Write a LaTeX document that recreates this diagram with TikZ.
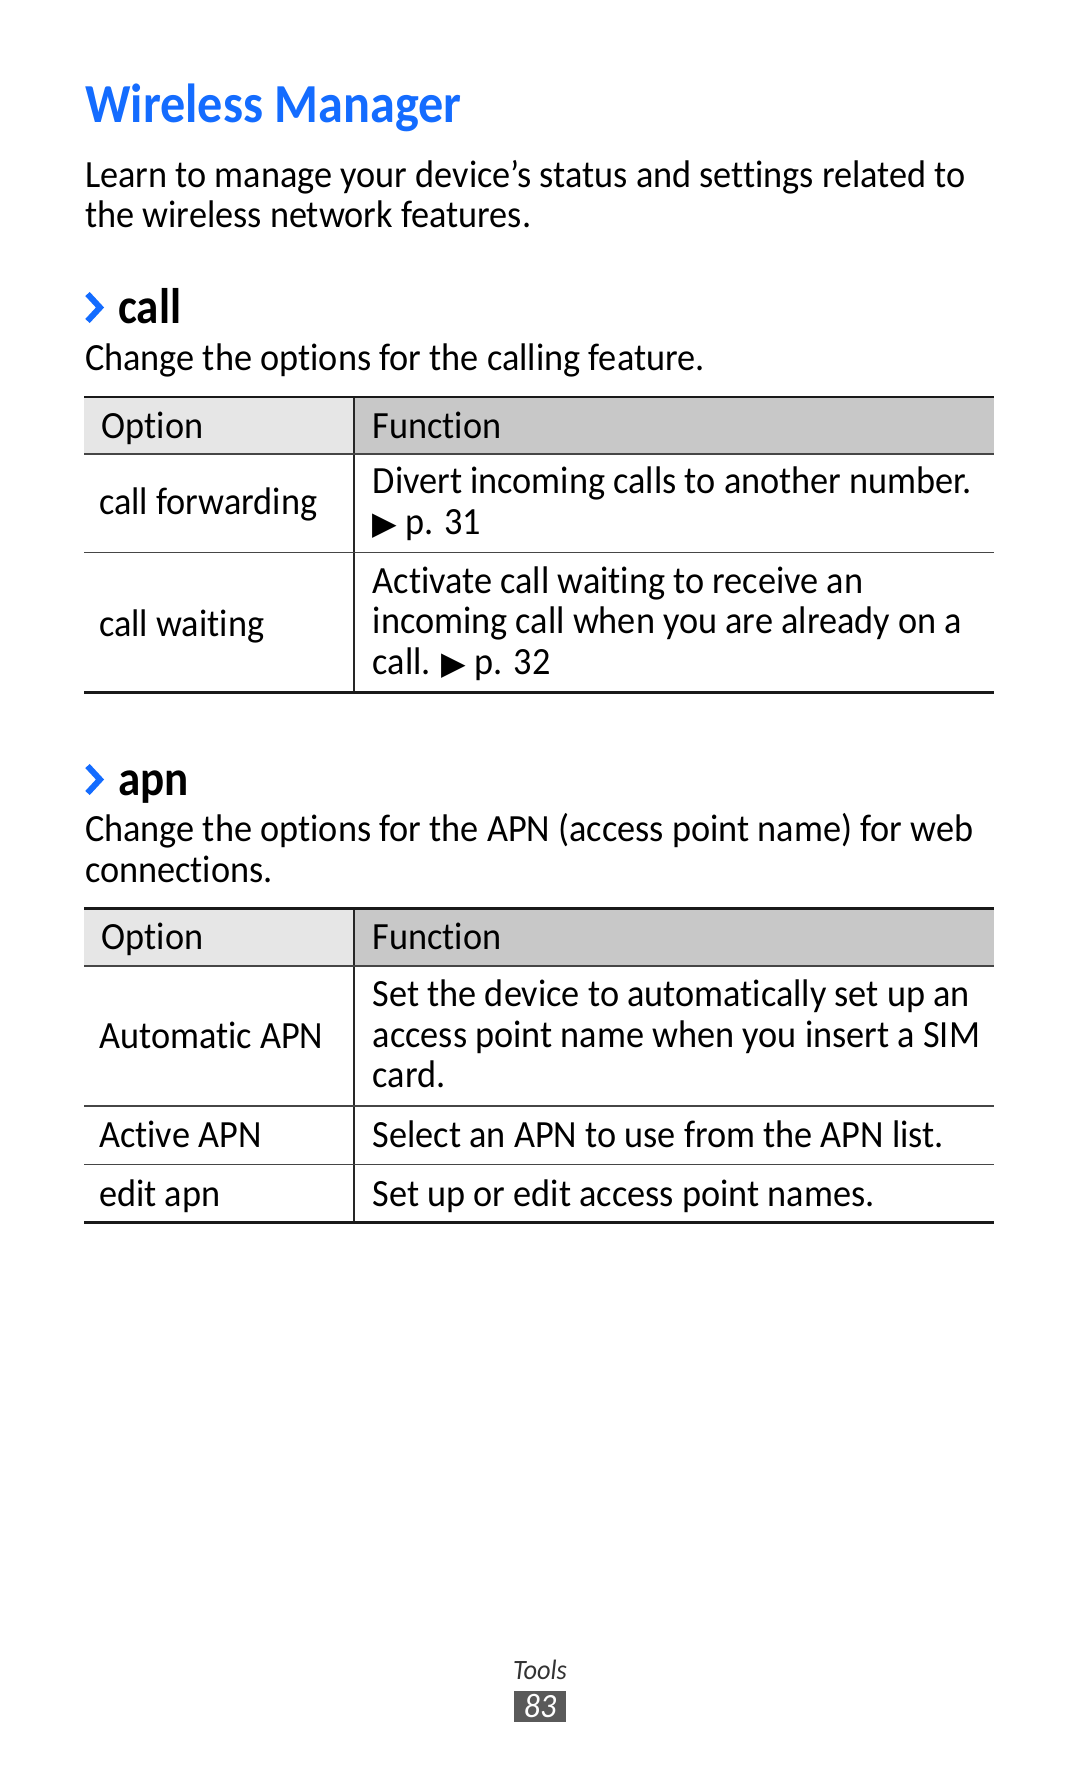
\documentclass[tikz,border=0pt]{standalone}
\usepackage{fontspec}
\setmainfont{Carlito}[FakeStretch=0.942,Ligatures=NoCommon]
\newfontfamily\titlefont{Carlito}[FakeStretch=0.913]
\newfontfamily\headfont{Carlito}[FakeStretch=0.9]
\newfontfamily\symfont{DejaVu Sans}
\definecolor{titleblue}{RGB}{20,108,255}
\definecolor{hdrlight}{RGB}{230,230,230}
\definecolor{hdrdark}{RGB}{200,200,200}
\definecolor{rulegray}{RGB}{70,70,70}
\definecolor{pagebox}{RGB}{90,90,90}
\newcommand{\tri}{{\symfont\fontsize{32}{40}\selectfont ▶}}
\tikzset{
  body/.style={anchor=base west, inner sep=0pt, font=\fontsize{38.5}{40.5}\selectfont},
  titletext/.style={anchor=base west, inner sep=0pt, text=titleblue, font=\titlefont\bfseries\fontsize{55}{60}\selectfont},
  headtext/.style={anchor=base west, inner sep=0pt, font=\headfont\bfseries\fontsize{50}{54}\selectfont},
  chevron/.style={draw=titleblue, line width=6pt, miter limit=10},
  thickrule/.style={draw=black!90, line width=2.6pt},
  midrule/.style={draw=rulegray, line width=2pt},
  thinrule/.style={draw=rulegray, line width=1.5pt},
  colrule/.style={draw=black!85, line width=1.2pt},
}
\begin{document}
\begin{tikzpicture}[x=1pt,y=-1pt]
\useasboundingbox[fill=white] (0,0) rectangle (1080,1771);

% title and intro
\node[titletext] (title) at (85,123) {Wireless Manager};
\node[body] (intro1) at (85,187.5) {Learn to manage your device’s status and settings related to};
\node[body] (intro2) at (85,228) {the wireless network features.};

% call heading
\draw[chevron] (87.5,294) -- (100,307.5) -- (87.5,321);
\node[headtext] (callhead) at (118,323) {call};
\node[body] (calldesc) at (85,370.5) {Change the options for the calling feature.};

% table 1
\fill[hdrlight] (84,397) rectangle (354,454);
\fill[hdrdark] (354,397) rectangle (994,454);
\draw[colrule] (354,397) -- (354,692.5);
\draw[thickrule] (84,397) -- (994,397);
\draw[midrule] (84,454) -- (994,454);
\draw[thinrule] (84,552.5) -- (994,552.5);
\draw[thickrule] (84,692.5) -- (994,692.5);
\node[body] (t1opt) at (101.5,438) {Option};
\node[body] (t1fun) at (372.5,438) {Function};
\node[body] (cf) at (99,514) {call forwarding};
\node[body] (cfd1) at (372.5,493.7) {Divert incoming calls to another number.};
\node[body] (cfd2) at (372.5,534.3) {\tri\ p. 31};
\node[body] (cw) at (99,636) {call waiting};
\node[body] (cwd1) at (372.5,593) {Activate call waiting to receive an};
\node[body] (cwd2) at (372.5,633.6) {incoming call when you are already on a};
\node[body] (cwd3) at (372.5,674.2) {call. \tri\ p. 32};

% apn heading
\draw[chevron] (87.5,766) -- (100,779.5) -- (87.5,793);
\node[headtext] (apnhead) at (118,795) {apn};
\node[body] (apndesc1) at (85,841.6) {Change the options for the APN (access point name) for web};
\node[body] (apndesc2) at (85,882.2) {connections.};

% table 2
\fill[hdrlight] (84,908.3) rectangle (354,966);
\fill[hdrdark] (354,908.3) rectangle (994,966);
\draw[colrule] (354,908.3) -- (354,1222.3);
\draw[thickrule] (84,908.3) -- (994,908.3);
\draw[midrule] (84,966) -- (994,966);
\draw[thinrule] (84,1106) -- (994,1106);
\draw[thinrule] (84,1164.7) -- (994,1164.7);
\draw[thickrule] (84,1222.3) -- (994,1222.3);
\node[body] (t2opt) at (101.5,949) {Option};
\node[body] (t2fun) at (372.5,949) {Function};
\node[body] (aa) at (99,1048) {Automatic APN};
\node[body] (aad1) at (372.5,1006.6) {Set the device to automatically set up an};
\node[body] (aad2) at (372.5,1047.2) {access point name when you insert a SIM};
\node[body] (aad3) at (372.5,1087.8) {card.};
\node[body] (ac) at (99,1147.8) {Active APN};
\node[body] (acd) at (372.5,1147.8) {Select an APN to use from the APN list.};
\node[body] (ea) at (99,1206.5) {edit apn};
\node[body] (ead) at (372.5,1206.5) {Set up or edit access point names.};

% footer
\node[anchor=base, inner sep=0pt, text=black!80, font=\itshape\fontsize{28}{30}\selectfont] (tools) at (540,1679) {Tools};
\node[fill=pagebox, minimum width=52pt, minimum height=31pt, inner sep=0pt, text=white, font=\itshape\fontsize{34}{34}\selectfont] (pagenum) at (540,1706.2) {83};
\end{tikzpicture}
\end{document}
